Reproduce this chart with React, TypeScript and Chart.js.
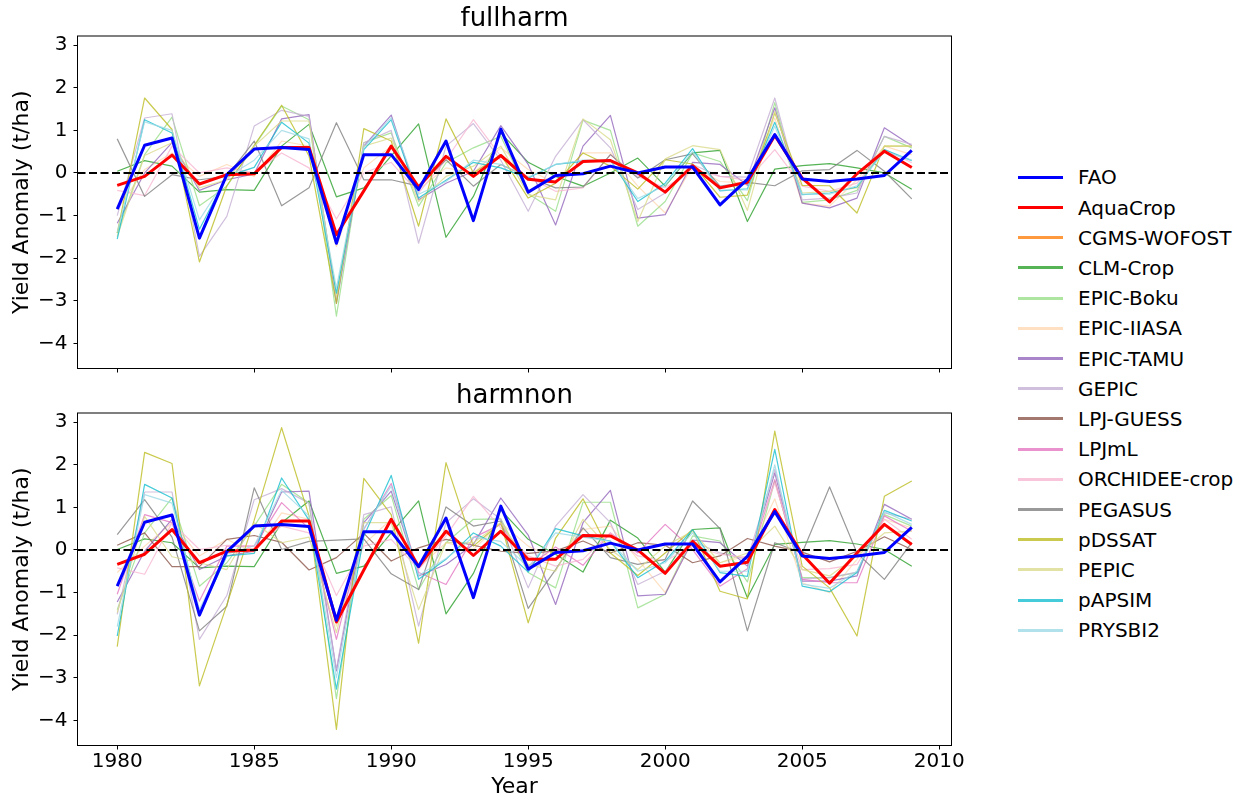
import React, { useEffect, useRef } from 'react';
import { Chart, registerables } from 'chart.js';

Chart.register(...registerables);

const FONT = 'DejaVu Sans';

// ---- axes ----
const years = [
  1980, 1981, 1982, 1983, 1984, 1985, 1986, 1987, 1988, 1989,
  1990, 1991, 1992, 1993, 1994, 1995, 1996, 1997, 1998, 1999,
  2000, 2001, 2002, 2003, 2004, 2005, 2006, 2007, 2008, 2009,
];
const xTicks = [1980, 1985, 1990, 1995, 2000, 2005, 2010];
const yTicks = [-4, -3, -2, -1, 0, 1, 2, 3];

// ---- series legend ----
const modelNames = [
  'FAO', 'AquaCrop', 'CGMS-WOFOST', 'CLM-Crop', 'EPIC-Boku', 'EPIC-IIASA',
  'EPIC-TAMU', 'GEPIC', 'LPJ-GUESS', 'LPJmL', 'ORCHIDEE-crop', 'PEGASUS',
  'pDSSAT', 'PEPIC', 'pAPSIM', 'PRYSBI2',
];
const modelColors = [
  'rgb(0,0,255)', 'rgb(255,0,0)', 'rgba(255,127,14,0.8)', 'rgba(44,160,44,0.8)',
  'rgba(152,223,138,0.8)', 'rgba(255,187,120,0.45)', 'rgba(148,103,189,0.8)',
  'rgba(197,176,213,0.8)', 'rgba(140,86,75,0.8)', 'rgba(227,119,194,0.8)',
  'rgba(247,182,210,0.8)', 'rgba(127,127,127,0.8)', 'rgba(188,189,34,0.8)',
  'rgba(219,219,141,0.8)', 'rgba(23,190,207,0.8)', 'rgba(158,218,229,0.8)',
];

// ---- observed yield anomaly (both panels) ----
const fao = [-0.85, 0.65, 0.82, -1.53, -0.04, 0.56, 0.6, 0.55, -1.65, 0.43, 0.43, -0.39, 0.75, -1.12, 1.03, -0.45, -0.06, -0.02, 0.16, 0.0, 0.14, 0.14, -0.75, -0.15, 0.9, -0.14, -0.2, -0.14, -0.06, 0.53];

// ---- fullharm simulations ----
const aquaFull = [-0.29, -0.08, 0.42, -0.26, -0.04, -0.02, 0.6, 0.6, -1.45, -0.42, 0.63, -0.33, 0.39, -0.08, 0.41, -0.15, -0.21, 0.27, 0.29, 0.0, -0.45, 0.17, -0.35, -0.22, 0.88, -0.12, -0.68, -0.02, 0.51, 0.13];
const clmFull = [0.04, 0.29, 0.16, -0.45, -0.39, -0.41, 0.63, 1.14, -0.56, -0.35, 0.4, 1.15, -1.51, -0.55, 0.94, 0.25, -0.08, -0.31, 0.0, 0.35, -0.31, 0.47, 0.53, -1.14, 0.09, 0.17, 0.22, 0.12, 0.0, -0.38];
const bokuFull = [-1.41, 0.43, 1.31, -0.77, -0.31, 0.63, 1.57, 1.25, -3.36, 0.71, 0.94, -0.78, 0.24, 0.59, 0.86, -0.49, -0.9, 1.24, 1.0, -1.25, -0.67, 0.47, 0.27, -0.65, 1.65, -0.69, -0.63, -0.41, 0.86, 0.59];
const iiasaFull = [-0.86, 0.08, 0.47, -0.08, 0.2, -0.08, 0.75, 0.63, -1.73, 0.12, 0.63, -0.39, 0.12, 0.0, 0.59, 0.08, -0.24, 0.47, 0.47, -0.31, -0.94, 0.16, -0.2, -0.24, 1.29, -0.71, -0.78, -0.16, 0.63, 0.43];
const tamuFull = [-1.18, 0.0, 0.71, -0.41, -0.16, -0.02, 1.27, 1.37, -3.06, 0.63, 1.36, -0.63, -0.24, 0.04, 1.11, 0.2, -1.22, 0.63, 1.35, -1.06, -0.98, 0.25, 0.2, -0.29, 1.53, -0.71, -0.82, -0.59, 1.06, 0.64];
const gepicFull = [-1.0, 1.29, 1.39, -1.96, -1.02, 1.1, 1.47, 1.33, -2.98, 0.71, 1.0, -1.65, 0.63, 1.16, 0.3, -0.9, 0.39, 1.25, 0.59, -0.86, -0.47, 0.2, -0.08, -0.1, 1.76, -0.63, -0.59, -0.47, 0.86, 0.67];
const orchideeFull = [-0.41, -0.53, 0.63, 0.0, 0.12, 0.0, 0.47, 0.12, -1.08, 0.0, 0.25, -0.47, 0.31, 1.25, 0.39, -0.1, -0.43, -0.35, 0.43, -0.08, -0.35, 0.08, -0.08, -0.17, 0.55, -0.31, -0.43, -0.24, 0.55, 0.24];
const pegasusFull = [0.8, -0.55, -0.04, -0.16, -0.08, 0.75, -0.77, -0.35, 1.18, -0.16, -0.16, -0.31, 0.31, -0.31, 0.2, -0.1, -0.35, -0.33, 0.43, -0.12, 0.31, 0.45, -0.31, -0.22, -0.3, 0.05, 0.08, 0.53, 0.04, -0.61];
const pdssatFull = [-1.41, 1.76, 1.02, -2.09, -0.3, 0.65, 1.59, 0.4, -3.06, 1.04, 0.75, -1.25, 1.27, 0.0, 0.43, -0.59, -0.24, 0.47, 0.16, -0.38, 0.31, 0.21, -0.57, -0.52, 1.41, -0.29, -0.3, -0.94, 0.63, 0.63];
const pepicFull = [-1.49, 0.41, 0.71, -0.35, -0.16, 0.63, 1.22, 1.22, -2.9, 0.63, 0.82, -0.67, -0.08, 0.16, 0.63, -0.51, -0.63, 1.27, 0.78, -1.14, 0.33, 0.64, 0.55, -0.88, 1.45, -0.47, -0.43, -0.35, 0.63, 0.63];
const papsimFull = [-1.55, 1.25, 0.94, -1.32, -0.08, 0.13, 1.19, 0.7, -2.82, 0.55, 1.25, -0.59, -0.17, 0.25, 0.12, -0.12, 0.2, 0.27, 0.3, -0.67, -0.24, 0.57, -0.42, -0.37, 1.19, -0.51, -0.47, -0.33, 0.55, 0.29];
const prysbiFull = [-1.4, 1.2, 1.0, -1.1, -0.1, 0.3, 1.0, 0.8, -2.7, 0.6, 1.3, -0.5, -0.2, 0.3, 0.2, -0.1, 0.2, 0.3, 0.3, -0.6, -0.3, 0.5, -0.4, -0.4, 1.1, -0.5, -0.5, -0.3, 0.5, 0.3];

// ---- harmnon simulations ----
const aquaNon = [-0.34, -0.1, 0.48, -0.3, -0.03, 0.0, 0.68, 0.68, -1.69, -0.47, 0.72, -0.39, 0.44, -0.13, 0.44, -0.22, -0.22, 0.34, 0.33, 0.0, -0.55, 0.2, -0.38, -0.29, 0.95, -0.1, -0.78, -0.07, 0.6, 0.13];
const clmNon = [0.01, 0.26, 0.17, -0.42, -0.38, -0.39, 0.64, 1.15, -0.55, -0.38, 0.4, 1.15, -1.5, -0.55, 0.94, 0.25, -0.1, -0.52, 0.7, 0.28, -0.52, 0.48, 0.52, -1.12, 0.13, 0.18, 0.22, 0.14, 0.01, -0.38];
const bokuNon = [-1.4, 0.4, 1.22, -0.85, -0.3, 0.56, 1.54, 1.1, -3.49, 0.72, 1.28, -0.93, 0.17, 0.72, 0.73, -0.53, -0.89, 1.12, 1.12, -1.36, -1.04, 0.33, 0.21, -0.75, 1.62, -0.65, -0.65, -0.53, 0.83, 0.56];
const iiasaNon = [-0.53, 0.09, 0.64, -0.14, 0.25, -0.07, 0.87, 0.72, -1.79, 0.13, 0.72, -0.42, 0.17, 0.01, 0.64, 0.09, -0.22, 0.48, 0.56, -0.22, -1.0, 0.21, -0.3, -0.14, 1.2, -0.77, -1.0, -0.22, 0.72, 0.52];
const tamuNon = [-1.22, -0.03, 0.72, -0.46, -0.14, -0.03, 1.36, 1.38, -2.84, 0.64, 1.38, -0.61, -0.34, 0.13, 1.22, 0.35, -1.28, 0.64, 1.4, -1.08, -1.04, 0.23, 0.17, -0.38, 1.81, -0.73, -0.73, -0.61, 1.07, 0.72];
const gepicNon = [-1.51, 1.36, 1.36, -2.1, -1.07, 1.18, 1.44, 1.1, -2.8, 0.83, 1.01, -1.79, 0.64, 1.2, 0.72, -0.89, 0.56, 1.3, 0.64, -0.81, -0.5, 0.21, -0.07, -0.22, 1.89, -0.68, -0.65, -0.52, 0.87, 0.72];
const guessNon = [0.11, 0.4, -0.39, -0.39, 0.25, 0.34, 0.18, -0.47, -0.18, 0.39, -0.26, 0.05, 0.25, 0.11, -0.03, -0.08, -0.02, 0.21, -0.07, 0.17, 0.11, -0.3, -0.14, 0.27, 0.09, -0.05, -0.28, -0.03, 0.31, 0.01];
const lpjmlNon = [-1.04, 0.83, 0.64, -1.2, 0.09, 0.09, 1.11, 0.5, -2.1, 0.48, 1.56, -0.53, -0.81, 0.29, 0.6, -0.38, 0.07, -0.36, 0.4, -0.07, 0.6, 0.01, -0.85, -0.44, 1.65, -0.69, -0.77, -0.77, 0.8, 0.44];
const orchideeNon = [-0.42, -0.57, 0.64, 0.01, 0.11, 0.09, 0.56, 0.4, -1.07, 0.09, 0.25, -0.46, 0.33, 1.26, 0.52, -0.14, -0.38, -0.22, 0.4, -0.14, -0.26, 0.09, -0.1, -0.18, 1.57, -0.46, -0.44, -0.34, 0.72, 0.25];
const pegasusNon = [0.36, 1.18, 0.3, -1.9, -1.32, 1.46, 0.01, 0.2, 0.23, 0.26, -0.56, -0.93, 1.01, 0.56, 0.68, -1.37, -0.46, 0.52, -0.18, -0.34, -0.22, 1.15, 0.5, -1.9, 0.17, -0.07, 1.48, -0.07, -0.69, 0.17];
const pdssatNon = [-2.27, 2.29, 2.03, -3.19, -1.29, 0.7, 2.87, 0.8, -4.21, 1.68, 0.83, -2.19, 2.05, 0.09, 0.64, -1.71, 0.28, 1.2, -0.07, -0.6, -0.07, 0.48, -0.97, -1.15, 2.79, -0.38, -0.89, -2.02, 1.26, 1.62];
const pepicNon = [-1.47, 0.79, -0.16, -0.3, -0.46, 0.64, 0.17, 0.3, -1.94, 0.64, 0.64, -1.4, 0.17, 0.17, 0.64, -0.34, -0.5, 0.72, 0.01, -0.46, 0.09, 0.44, -0.3, -0.07, 0.56, -0.46, -0.61, -0.14, 0.4, 0.44];
const papsimNon = [-2.02, 1.54, 1.22, -1.51, -0.14, -0.08, 1.69, 0.7, -3.27, 0.32, 1.75, -0.69, -0.22, 0.4, 0.09, -0.52, 0.5, 0.33, 0.21, -0.65, -0.26, 0.48, -0.53, -0.62, 2.36, -0.85, -0.98, -0.53, 0.93, 0.68];
const prysbiNon = [-1.8, 1.3, 1.1, -1.4, -0.1, 0.1, 1.4, 0.8, -3.0, 0.5, 1.5, -0.6, -0.2, 0.3, 0.2, -0.4, 0.4, 0.3, 0.2, -0.5, -0.3, 0.4, -0.5, -0.5, 2.0, -0.8, -0.9, -0.5, 0.9, 0.6];

// per-panel series in legend order (null = model not run for that setup)
const fullharmSeries = [
  fao, aquaFull, null, clmFull, bokuFull, iiasaFull, tamuFull, gepicFull,
  null, null, orchideeFull, pegasusFull, pdssatFull, pepicFull, papsimFull, prysbiFull,
];
const harmnonSeries = [
  fao, aquaNon, null, clmNon, bokuNon, iiasaNon, tamuNon, gepicNon,
  guessNon, lpjmlNon, orchideeNon, pegasusNon, pdssatNon, pepicNon, papsimNon, prysbiNon,
];

const X_MIN = 1978.55;
const X_MAX = 2010.45;
const Y_MIN = -4.59;
const Y_MAX = 3.215;

const fmtY = (v: number) => (v < 0 ? '\u2212' + Math.abs(v) : String(v));

// zero reference line and the axes frame
const framePlugin = {
  id: 'frameAndZero',
  afterDatasetsDraw(chart: any) {
    const { ctx, chartArea: a, scales } = chart;
    const y0 = scales.y.getPixelForValue(0);
    ctx.save();
    ctx.beginPath();
    ctx.rect(a.left, a.top, a.right - a.left, a.bottom - a.top);
    ctx.clip();
    ctx.setLineDash([8, 3.5]);
    ctx.lineWidth = 2;
    ctx.strokeStyle = '#000';
    ctx.beginPath();
    ctx.moveTo(a.left, y0);
    ctx.lineTo(a.right, y0);
    ctx.stroke();
    ctx.restore();
    ctx.save();
    ctx.lineWidth = 1;
    ctx.strokeStyle = '#000';
    ctx.strokeRect(a.left, a.top, a.right - a.left, a.bottom - a.top);
    ctx.restore();
  },
};

function buildDatasets(series: (number[] | null)[]) {
  const out: any[] = [];
  series.forEach((vals, i) => {
    if (!vals) return;
    const main = i < 2;
    out.push({
      label: modelNames[i],
      data: years.map((x, j) => ({ x, y: vals[j] })),
      borderColor: modelColors[i],
      backgroundColor: modelColors[i],
      borderWidth: main ? 3 : 1.2,
      pointRadius: 0,
      pointHoverRadius: 0,
      tension: 0,
      fill: false,
      borderJoinStyle: 'round',
      order: main ? i : 100 - i,
    });
  });
  return out;
}

function makeConfig(series: (number[] | null)[], title: string, bottom: boolean): any {
  const tickFont = { family: FONT, size: 20 };
  const labelFont = { family: FONT, size: 22 };
  const grid = {
    display: true,
    drawOnChartArea: false,
    drawTicks: true,
    tickLength: 4,
    tickColor: '#000',
    tickWidth: 1,
  };
  return {
    type: 'line',
    data: { datasets: buildDatasets(series) },
    plugins: [framePlugin],
    options: {
      animation: false,
      responsive: false,
      devicePixelRatio: 1,
      layout: { padding: { left: 0, right: 48.5, top: 0, bottom: 0 } },
      plugins: {
        legend: { display: false },
        tooltip: { enabled: false },
        title: {
          display: true,
          text: title,
          color: '#000',
          fullSize: false,
          font: { family: FONT, size: 26, weight: 'normal' },
          padding: { top: 4, bottom: 0.8 },
        },
      },
      scales: {
        x: {
          type: 'linear',
          min: X_MIN,
          max: X_MAX,
          afterBuildTicks: (s: any) => {
            s.ticks = xTicks.map((v) => ({ value: v }));
          },
          afterFit: (s: any) => {
            s.height = bottom ? 54.5 : 21.5;
          },
          ticks: {
            display: bottom,
            autoSkip: false,
            maxRotation: 0,
            padding: 0,
            color: '#000',
            font: tickFont,
            callback: (v: number) => String(v),
          },
          grid,
          border: { display: false },
          title: {
            display: bottom,
            text: 'Year',
            color: '#000',
            font: labelFont,
            padding: { top: 0, bottom: 0 },
          },
        },
        y: {
          type: 'linear',
          min: Y_MIN,
          max: Y_MAX,
          afterBuildTicks: (s: any) => {
            s.ticks = yTicks.map((v) => ({ value: v }));
          },
          afterFit: (s: any) => {
            s.width = 77.5;
          },
          ticks: {
            padding: 6,
            color: '#000',
            font: tickFont,
            callback: (v: number) => fmtY(v),
          },
          grid,
          border: { display: false },
          title: {
            display: true,
            text: 'Yield Anomaly (t/ha)',
            color: '#000',
            font: labelFont,
            padding: { top: 9, bottom: 0 },
          },
        },
      },
    },
  };
}

const LEGEND_TOP = 177.3;
const LEGEND_STEP = 30.2;

export default function App() {
  const topRef = useRef<HTMLCanvasElement | null>(null);
  const bottomRef = useRef<HTMLCanvasElement | null>(null);

  useEffect(() => {
    const charts: Chart[] = [];
    if (topRef.current) {
      charts.push(new Chart(topRef.current, makeConfig(fullharmSeries, 'fullharm', false)));
    }
    if (bottomRef.current) {
      charts.push(new Chart(bottomRef.current, makeConfig(harmnonSeries, 'harmnon', true)));
    }
    return () => charts.forEach((c) => c.destroy());
  }, []);

  return (
    <div
      style={{
        position: 'absolute',
        left: 0,
        top: 0,
        width: 1247,
        height: 800,
        background: '#fff',
        overflow: 'hidden',
        fontFamily: FONT,
      }}
    >
      <canvas
        ref={topRef}
        width={1000}
        height={390}
        style={{ position: 'absolute', left: 0, top: 0, width: 1000, height: 390 }}
      />
      <canvas
        ref={bottomRef}
        width={1000}
        height={423}
        style={{ position: 'absolute', left: 0, top: 377, width: 1000, height: 423 }}
      />
      {modelNames.map((name, i) => {
        const cy = LEGEND_TOP + i * LEGEND_STEP;
        return (
          <div key={name}>
            <div
              style={{
                position: 'absolute',
                left: 1018,
                top: cy - 1.5,
                width: 45,
                height: 3,
                background: modelColors[i],
              }}
            />
            <div
              style={{
                position: 'absolute',
                left: 1078,
                top: cy - 15,
                height: 30,
                lineHeight: '30px',
                fontSize: 20,
                color: '#000',
                whiteSpace: 'nowrap',
              }}
            >
              {name}
            </div>
          </div>
        );
      })}
    </div>
  );
}
